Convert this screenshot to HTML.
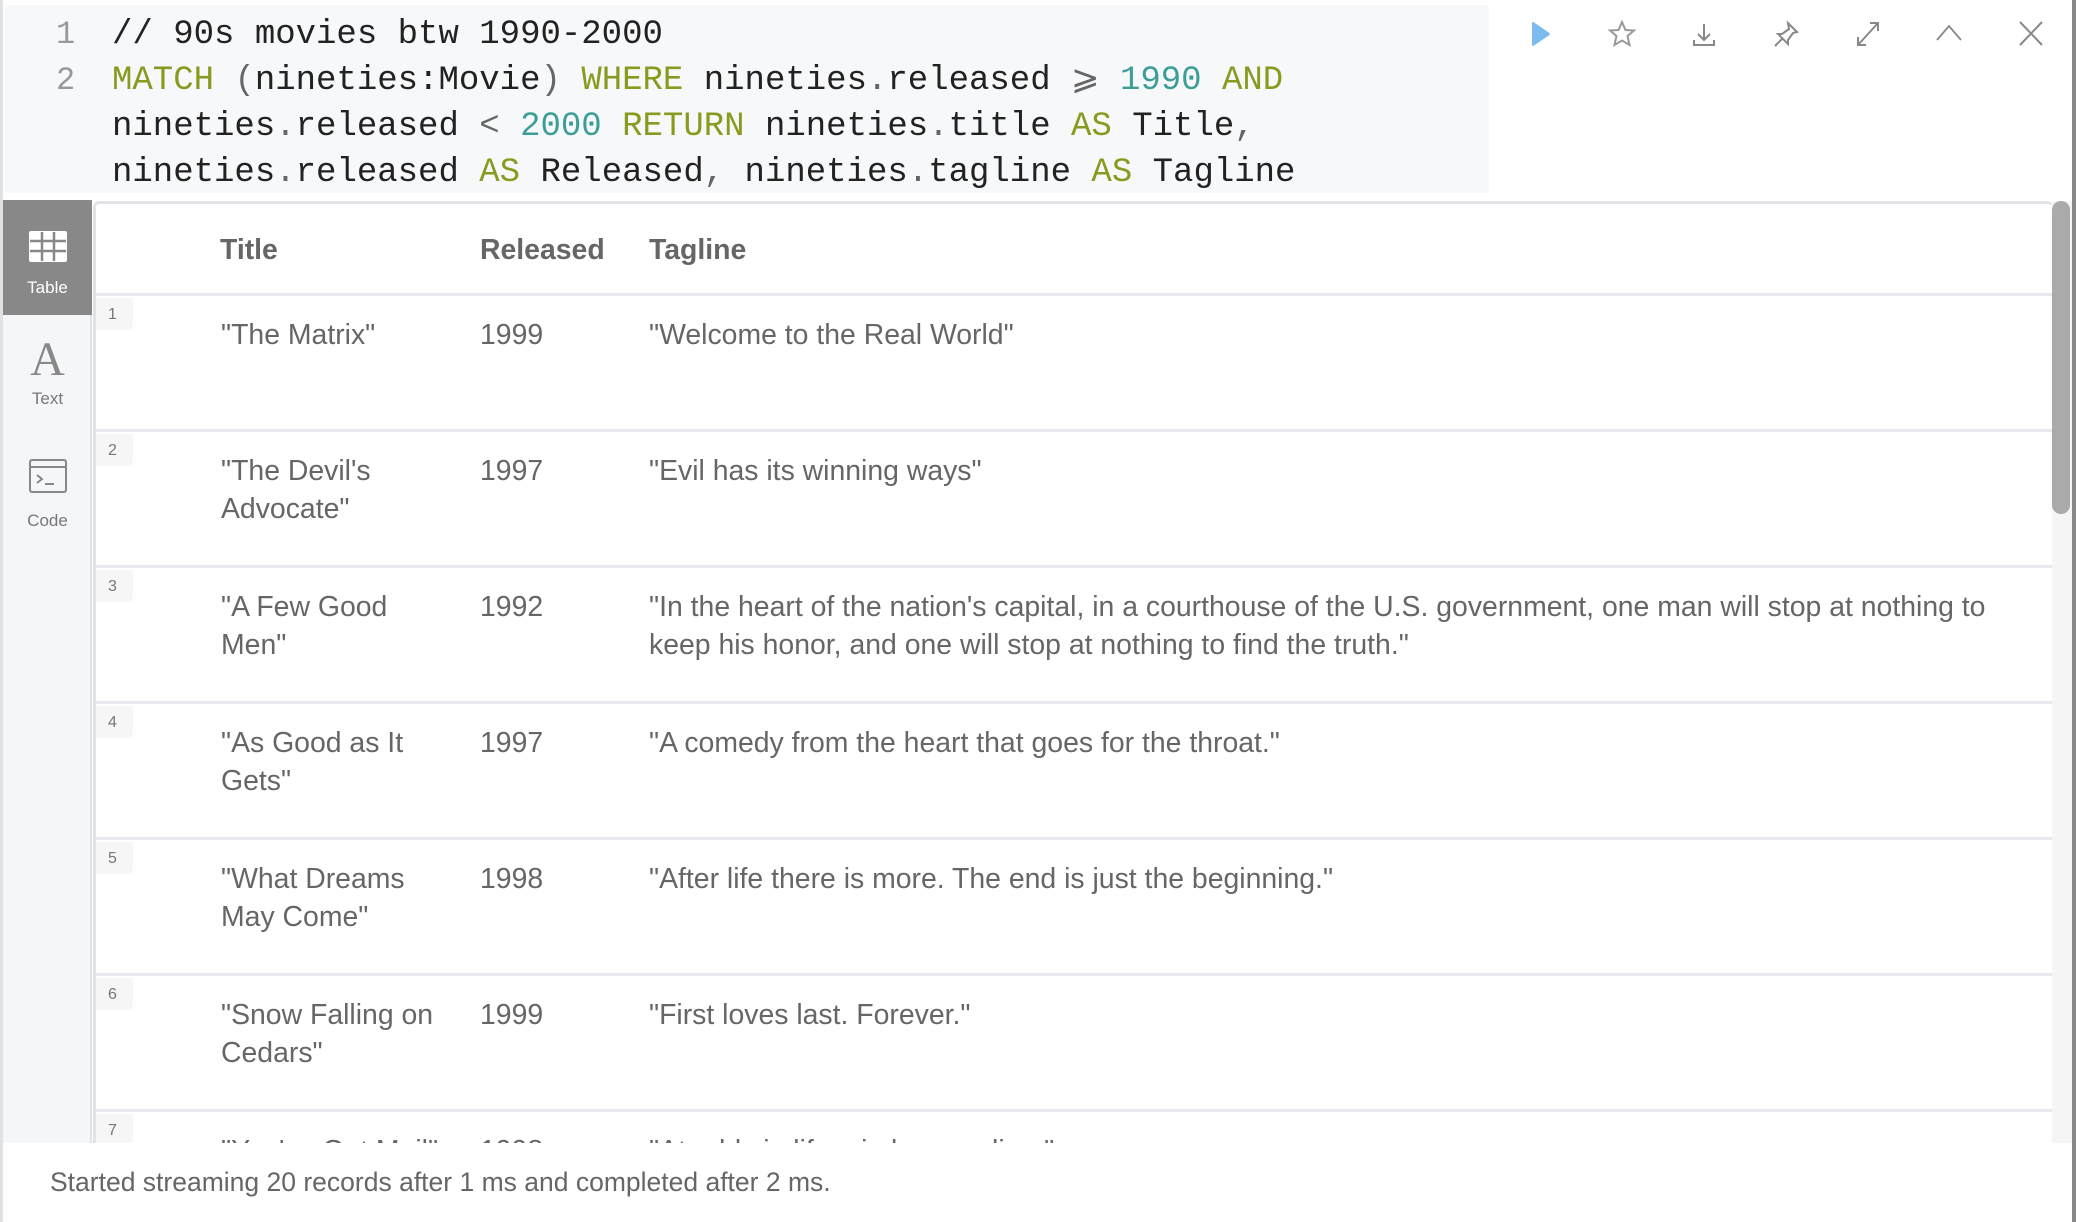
<!DOCTYPE html>
<html><head><meta charset="utf-8"><style>
*{margin:0;padding:0;box-sizing:border-box}
body{width:2076px;height:1222px;overflow:hidden;background:#fff;position:relative;font-family:"Liberation Sans",Arial,sans-serif}
.editor{position:absolute;left:5px;top:5px;width:1484px;height:188px;background:#f7f8fa;border-radius:4px}
.cl{position:absolute;left:112px;font-family:"Liberation Mono",monospace;font-size:34px;color:#222;white-space:pre;line-height:46px}
.ln{position:absolute;left:56px;font-family:"Liberation Mono",monospace;font-size:32px;color:#999;line-height:46px}
.k{color:#8a9a1f}.n{color:#3d9e98}.p{color:#666}
.side{position:absolute;left:3px;top:200px;width:89px;height:943px;background:#f5f6f8;border-right:2px solid #e2e3e7}
.tab{position:absolute;left:0;width:89px;text-align:center;font-size:17px;color:#777}
.panel{position:absolute;left:93px;top:201px;width:1960px;height:942px;border:3px solid #e2e3e7;border-right:none;border-bottom:none;border-radius:6px 6px 0 0;overflow:hidden;background:#fff}
.hd{position:absolute;top:30px;font-size:28.4px;font-weight:bold;color:#666}
.row{position:absolute;left:0;width:1960px;height:136px;border-top:3px solid #e8e9ed}
.num{position:absolute;left:0;top:2px;width:37px;height:32px;background:#f6f6f7;border-radius:0 0 6px 0;font-size:16px;color:#777;padding:8px 0 0 12px}
.c{position:absolute;top:20px;font-size:28.4px;line-height:38px;color:#666}
.scroll{position:absolute;left:2052px;top:201px;width:20px;height:942px;background:#f5f5f5}
.thumb{position:absolute;left:2052px;top:201px;width:18px;height:313px;background:#aaa;border-radius:9px}
.edge{position:absolute;left:2072px;top:0;width:4px;height:1222px;background:#888}
.foot{position:absolute;left:3px;top:1143px;width:2069px;height:79px;background:#fff;font-size:26.5px;color:#666;padding:24px 0 0 47px}
.ic{position:absolute;top:16px}
</style></head><body>
<div style="position:absolute;left:0;top:0;width:3px;height:1222px;background:#e0e1e5"></div>
<div class="editor"></div>
<div class="ln" style="top:12px">1</div>
<div class="ln" style="top:58px">2</div>
<div class="cl" style="top:12px">// 90s movies btw 1990-2000</div>
<div class="cl" style="top:58px"><span class="k">MATCH</span> <span class="p">(</span>nineties:Movie<span class="p">)</span> <span class="k">WHERE</span> nineties<span class="p">.</span>released <span class="p">⩾</span> <span class="n">1990</span> <span class="k">AND</span></div>
<div class="cl" style="top:104px">nineties<span class="p">.</span>released <span class="p">&lt;</span> <span class="n">2000</span> <span class="k">RETURN</span> nineties<span class="p">.</span>title <span class="k">AS</span> Title<span class="p">,</span></div>
<div class="cl" style="top:150px">nineties<span class="p">.</span>released <span class="k">AS</span> Released<span class="p">,</span> nineties<span class="p">.</span>tagline <span class="k">AS</span> Tagline</div>

<svg class="ic" style="left:1520px" width="40" height="36" viewBox="0 0 40 36"><path d="M13 7 L29 18 L13 29 Z" fill="#7dbbee" stroke="#7dbbee" stroke-width="2" stroke-linejoin="round"/></svg>
<svg class="ic" style="left:1602px" width="40" height="36" viewBox="0 0 40 36" fill="none" stroke="#999" stroke-width="2"><path d="M20 6 L23.5 14 L32 14.5 L25.5 20 L27.5 29 L20 24.5 L12.5 29 L14.5 20 L8 14.5 L16.5 14 Z"/></svg>
<svg class="ic" style="left:1684px" width="40" height="36" viewBox="0 0 40 36" fill="none" stroke="#888" stroke-width="2"><path d="M20 8 V24 M14 18 L20 24 L26 18 M10 24 V29 H30 V24"/></svg>
<svg class="ic" style="left:1766px" width="40" height="36" viewBox="0 0 40 36" fill="none" stroke="#888" stroke-width="2"><path d="M22 7 L31 16 L27 17 L22 24 L22 28 L12 18 L16 18 L23 13 Z M16 23 L9 30"/></svg>
<svg class="ic" style="left:1848px" width="40" height="36" viewBox="0 0 40 36" fill="none" stroke="#888" stroke-width="2"><path d="M10 29 L30 7 M22 7 H30 V15 M10 21 V29 H18"/></svg>
<svg class="ic" style="left:1929px" width="40" height="36" viewBox="0 0 40 36" fill="none" stroke="#888" stroke-width="1.8"><path d="M8 24 L20 10 L32 24"/></svg>
<svg class="ic" style="left:2011px" width="40" height="36" viewBox="0 0 40 36" fill="none" stroke="#888" stroke-width="2"><path d="M9 6 L31 29 M31 6 L9 29"/></svg>

<div class="side">
 <div class="tab" style="top:0;height:115px;background:#888;color:#fff">
  <svg style="position:absolute;left:25px;top:30px" width="40" height="33" viewBox="0 0 40 33"><rect x="1" y="1" width="38" height="31" rx="2" fill="#fff"/><g stroke="#888" stroke-width="2.5"><path d="M2 11H38M2 21H38M14 2V31M26 2V31"/></g></svg>
  <div style="position:absolute;top:78px;width:89px">Table</div>
 </div>
 <div class="tab" style="top:135px"><div style="font-family:'Liberation Serif',serif;font-size:48px;color:#888;line-height:50px">A</div><div style="margin-top:4px">Text</div></div>
 <div class="tab" style="top:258px"><svg width="40" height="36" viewBox="0 0 40 36" fill="none" stroke="#888" stroke-width="2"><rect x="2" y="2" width="36" height="32" rx="2"/><path d="M2 9H38M9 17L14 21L9 25M17 26H26"/></svg><div style="margin-top:12px">Code</div></div>
</div>

<div class="panel">
 <div class="hd" style="left:124px">Title</div>
 <div class="hd" style="left:384px">Released</div>
 <div class="hd" style="left:553px">Tagline</div>

 <div class="row" style="top:89px"><div class="num">1</div><div class="c" style="left:125px">"The Matrix"</div><div class="c" style="left:384px">1999</div><div class="c" style="left:553px">"Welcome to the Real World"</div></div>
 <div class="row" style="top:225px"><div class="num">2</div><div class="c" style="left:125px">"The Devil's<br>Advocate"</div><div class="c" style="left:384px">1997</div><div class="c" style="left:553px">"Evil has its winning ways"</div></div>
 <div class="row" style="top:361px"><div class="num">3</div><div class="c" style="left:125px">"A Few Good<br>Men"</div><div class="c" style="left:384px">1992</div><div class="c" style="left:553px">"In the heart of the nation's capital, in a courthouse of the U.S. government, one man will stop at nothing to<br>keep his honor, and one will stop at nothing to find the truth."</div></div>
 <div class="row" style="top:497px"><div class="num">4</div><div class="c" style="left:125px">"As Good as It<br>Gets"</div><div class="c" style="left:384px">1997</div><div class="c" style="left:553px">"A comedy from the heart that goes for the throat."</div></div>
 <div class="row" style="top:633px"><div class="num">5</div><div class="c" style="left:125px">"What Dreams<br>May Come"</div><div class="c" style="left:384px">1998</div><div class="c" style="left:553px">"After life there is more. The end is just the beginning."</div></div>
 <div class="row" style="top:769px"><div class="num">6</div><div class="c" style="left:125px">"Snow Falling on<br>Cedars"</div><div class="c" style="left:384px">1999</div><div class="c" style="left:553px">"First loves last. Forever."</div></div>
 <div class="row" style="top:905px"><div class="num">7</div><div class="c" style="left:125px">"You've Got Mail"</div><div class="c" style="left:384px">1998</div><div class="c" style="left:553px">"At odds in life... in love on-line."</div></div>
</div>
<div class="scroll"></div><div class="thumb"></div>
<div class="edge"></div>
<div class="foot">Started streaming 20 records after 1 ms and completed after 2 ms.</div>
</body></html>
